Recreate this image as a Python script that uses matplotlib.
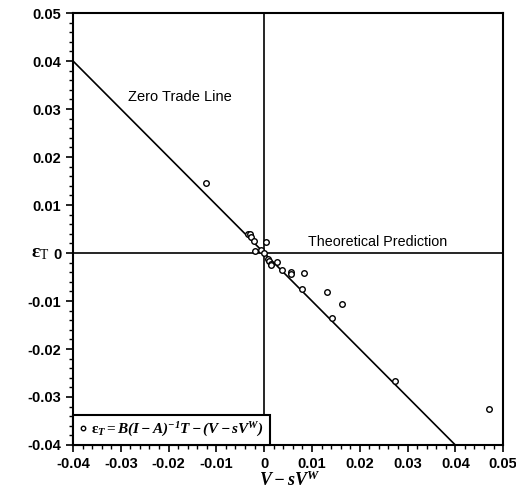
import numpy as np
import matplotlib.pyplot as plt

plt.rcParams['font.family'] = ['Liberation Sans', 'DejaVu Sans']
plt.rcParams['mathtext.fontset'] = 'custom'
plt.rcParams['mathtext.rm'] = 'Liberation Serif'
plt.rcParams['mathtext.it'] = 'Liberation Serif:italic'
plt.rcParams['mathtext.bf'] = 'Liberation Serif:bold'
plt.rcParams['mathtext.bfit'] = 'Liberation Serif:italic:bold'

# residual points
x_vals = [-0.0121, -0.0033, -0.0030, -0.0027, -0.0021, 0.0003, -0.0019, -0.0006,
          0.0000, 0.0007, 0.0010, 0.0015, 0.0026, 0.0014, 0.0038, 0.0056,
          0.0057, 0.0084, 0.0079, 0.0132, 0.0163, 0.0143, 0.0273, 0.0470]
y_vals = [0.0145, 0.0040, 0.0039, 0.0033, 0.0025, 0.0022, 0.0004, 0.0007,
          0.0000, -0.0012, -0.0016, -0.0023, -0.0019, -0.0026, -0.0035, -0.0040,
          -0.0044, -0.0042, -0.0076, -0.0081, -0.0106, -0.0136, -0.0267, -0.0326]

zero_trade_x = [-0.04, 0.04]
zero_trade_y = [0.04, -0.04]

major_ticks = [-0.04, -0.03, -0.02, -0.01, 0, 0.01, 0.02, 0.03, 0.04, 0.05]
tick_labels = ['-0.04', '-0.03', '-0.02', '-0.01', '0', '0.01', '0.02', '0.03', '0.04', '0.05']

fig = plt.figure(figsize=(5.16, 5.0), dpi=100)
ax = fig.add_axes([0.1415, 0.11, 0.8335, 0.864])

ax.axhline(0, color='black', lw=1.2, zorder=1)
ax.axvline(0, color='black', lw=1.2, zorder=1)
ax.plot(zero_trade_x, zero_trade_y, color='black', lw=1.2, zorder=1)

ax.plot(x_vals, y_vals, linestyle='none', marker='o', markersize=4,
        markerfacecolor='white', markeredgecolor='black', markeredgewidth=1.0,
        zorder=3,
        label=r'$\mathbf{\varepsilon}_{\mathbfit{T}} = \mathbfit{B(I-A)^{-1}T-(V-sV^{W})}$')

ax.set_xlim(-0.04, 0.05)
ax.set_ylim(-0.04, 0.05)
ax.set_xticks(major_ticks)
ax.set_xticklabels(tick_labels)
ax.set_yticks(major_ticks)
ax.set_yticklabels(tick_labels)
ax.set_xticks(np.arange(-0.04, 0.0501, 0.002), minor=True)
ax.set_yticks(np.arange(-0.04, 0.0501, 0.002), minor=True)
ax.tick_params(which='major', direction='out', length=5, width=1.2, labelsize=10.5)
ax.tick_params(which='minor', direction='out', length=3, width=1.0)
for lab in ax.get_xticklabels() + ax.get_yticklabels():
    lab.set_fontweight('bold')
for sp in ax.spines.values():
    sp.set_linewidth(1.5)

ax.text(-0.0284, 0.0325, 'Zero Trade Line', fontsize=10.5, va='center', ha='left')
ax.text(0.0092, 0.0023, 'Theoretical Prediction', fontsize=10.3, va='center', ha='left')

fig.text(0.562, 0.04, r'$\mathbfit{V-sV^{W}}$', fontsize=13, ha='center', va='center')
fig.text(0.078, 0.494, r'$\mathbf{\varepsilon}_{\mathrm{T}}$', fontsize=14,
         ha='center', va='center')

leg = ax.legend(loc='lower left', bbox_to_anchor=(0.0, 0.0), fontsize=11,
                handlelength=0.5, handletextpad=0.3, borderaxespad=0.0,
                fancybox=False, edgecolor='black', framealpha=1.0,
                borderpad=0.4, markerscale=0.8)
leg.get_frame().set_linewidth(1.5)
leg.set_zorder(5)

fig.savefig('out.png', dpi=100)
